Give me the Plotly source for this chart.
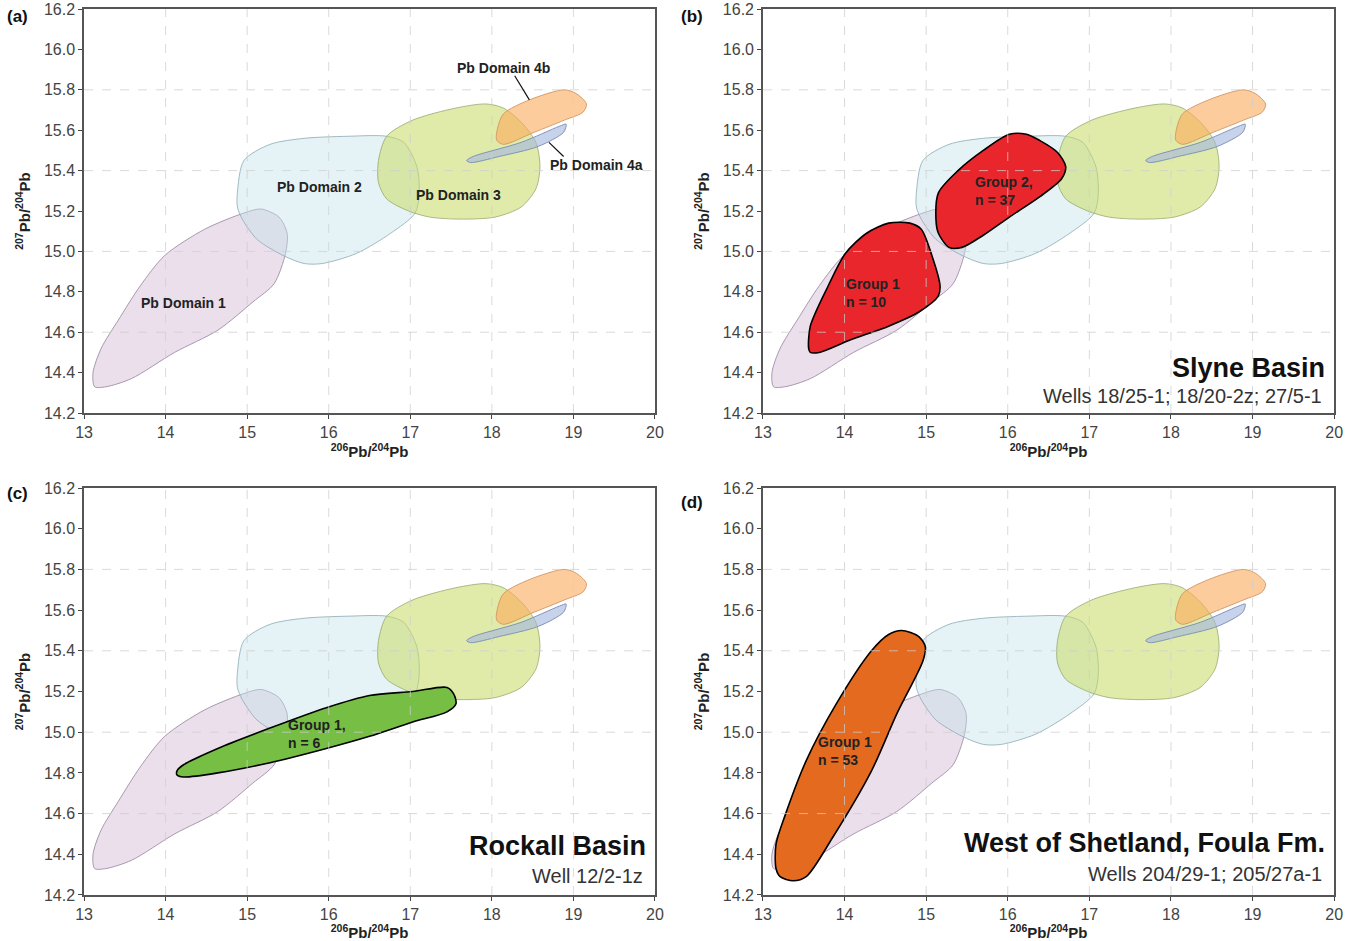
import plotly.graph_objects as go
from plotly.subplots import make_subplots

# ---------------- data ----------------
X_RANGE = [13, 20]
Y_RANGE = [14.2, 16.2]
X_TICKS = [13, 14, 15, 16, 17, 18, 19, 20]
Y_TICKS = [14.2, 14.4, 14.6, 14.8, 15.0, 15.2, 15.4, 15.6, 15.8, 16.0, 16.2]
GRID_X = [14, 15, 16, 17, 18, 19]
GRID_Y = [14.6, 15.0, 15.4, 15.8]

# Pb domain outlines (206Pb/204Pb, 207Pb/204Pb)
dom1_x = [13.13, 13.27, 13.58, 14.11, 14.64, 15.07, 15.33, 15.47, 15.49, 15.39, 15.17, 14.96, 14.48, 13.99, 13.69, 13.42, 13.21, 13.11, 13.13]
dom1_y = [14.33, 14.33, 14.37, 14.50, 14.61, 14.75, 14.84, 14.99, 15.09, 15.17, 15.21, 15.19, 15.11, 14.98, 14.83, 14.66, 14.52, 14.40, 14.33]

dom2_x = [14.88, 14.96, 15.28, 15.70, 16.23, 16.71, 16.92, 17.08, 17.11, 17.06, 16.76, 16.34, 15.92, 15.70, 15.44, 15.12, 14.94, 14.88, 14.88]
dom2_y = [15.29, 15.45, 15.53, 15.56, 15.57, 15.57, 15.54, 15.42, 15.29, 15.19, 15.09, 14.99, 14.94, 14.94, 14.98, 15.06, 15.16, 15.22, 15.29]

dom3_x = [16.61, 16.71, 17.03, 17.56, 17.93, 18.14, 18.36, 18.54, 18.59, 18.54, 18.36, 18.04, 17.61, 17.24, 16.98, 16.71, 16.61, 16.61]
dom3_y = [15.45, 15.57, 15.65, 15.71, 15.73, 15.71, 15.64, 15.54, 15.42, 15.31, 15.22, 15.17, 15.16, 15.17, 15.20, 15.26, 15.34, 15.45]

dom4b_x = [18.06, 18.14, 18.46, 18.89, 19.04, 19.16, 19.12, 18.89, 18.52, 18.14, 18.06, 18.06]
dom4b_y = [15.59, 15.68, 15.75, 15.80, 15.78, 15.73, 15.69, 15.65, 15.59, 15.53, 15.55, 15.59]

dom4a_x = [17.69, 17.77, 18.36, 18.83, 18.91, 18.88, 18.57, 18.09, 17.74, 17.69]
dom4a_y = [15.45, 15.47, 15.54, 15.62, 15.63, 15.59, 15.52, 15.47, 15.44, 15.45]

# Sample groups
slyne_g1_x = [13.56, 13.58, 13.80, 14.01, 14.27, 14.54, 14.80, 14.94, 15.07, 15.17, 15.15, 14.91, 14.54, 14.06, 13.69, 13.58, 13.56]
slyne_g1_y = [14.52, 14.63, 14.83, 14.99, 15.09, 15.14, 15.14, 15.11, 14.98, 14.83, 14.78, 14.70, 14.63, 14.56, 14.50, 14.50, 14.52]
slyne_g2_x = [15.12, 15.15, 15.39, 15.70, 16.02, 16.23, 16.39, 16.61, 16.71, 16.66, 16.39, 16.02, 15.70, 15.44, 15.28, 15.15, 15.12]
slyne_g2_y = [15.16, 15.29, 15.40, 15.50, 15.58, 15.58, 15.55, 15.49, 15.42, 15.36, 15.27, 15.17, 15.08, 15.02, 15.02, 15.09, 15.16]

rockall_g1_x = [14.14, 14.22, 14.64, 15.28, 15.97, 16.50, 17.03, 17.45, 17.53, 17.56, 17.45, 17.03, 16.50, 15.97, 15.28, 14.64, 14.22, 14.14, 14.14]
rockall_g1_y = [14.81, 14.84, 14.92, 15.02, 15.12, 15.18, 15.20, 15.22, 15.19, 15.14, 15.10, 15.05, 14.98, 14.92, 14.85, 14.80, 14.78, 14.79, 14.81]

shetland_g1_x = [13.16, 13.21, 13.37, 13.53, 13.85, 14.33, 14.64, 14.96, 14.99, 14.91, 14.70, 14.54, 14.33, 13.90, 13.53, 13.27, 13.16, 13.16]
shetland_g1_y = [14.33, 14.29, 14.27, 14.29, 14.48, 14.81, 15.09, 15.35, 15.42, 15.47, 15.50, 15.48, 15.40, 15.14, 14.86, 14.59, 14.45, 14.33]

DOMAIN_NAMES = ["Pb Domain 1", "Pb Domain 2", "Pb Domain 3", "Pb Domain 4b", "Pb Domain 4a"]
DOMAINS = [(dom1_x, dom1_y), (dom2_x, dom2_y), (dom3_x, dom3_y), (dom4b_x, dom4b_y), (dom4a_x, dom4a_y)]
DOMAIN_FILL = ["rgba(208,178,208,0.42)", "rgba(196,226,234,0.42)", "rgba(198,218,100,0.55)",
               "rgba(252,170,90,0.60)", "rgba(165,182,222,0.62)"]
DOMAIN_LINE = ["rgba(150,130,160,0.8)", "rgba(140,170,180,0.8)", "rgba(150,170,110,0.8)",
               "rgba(210,150,100,0.9)", "rgba(120,140,180,0.9)"]

PANEL_LETTERS = ["(a)", "(b)", "(c)", "(d)"]

# ---------------- figure ----------------
fig = make_subplots(rows=2, cols=2)

NARROW = "Liberation Sans Narrow, Arial Narrow, Liberation Sans, Arial"
SANS = "Liberation Sans, Arial"

panels = [(1, 1), (1, 2), (2, 1), (2, 2)]
for (r, c) in panels:
    for (dx, dy), nm, fc, lc in zip(DOMAINS, DOMAIN_NAMES, DOMAIN_FILL, DOMAIN_LINE):
        fig.add_trace(go.Scatter(x=dx, y=dy, mode="lines", fill="toself", fillcolor=fc,
                                 line=dict(color=lc, width=1, shape="spline", smoothing=0.8),
                                 name=nm, hoverinfo="name", showlegend=False), row=r, col=c)

def add_group(x, y, color, r, c, name):
    fig.add_trace(go.Scatter(x=x, y=y, mode="lines", fill="toself", fillcolor=color,
                             line=dict(color="black", width=1.6, shape="spline", smoothing=0.8),
                             name=name, hoverinfo="name", showlegend=False), row=r, col=c)

add_group(slyne_g1_x, slyne_g1_y, "#e8262b", 1, 2, "Group 1")
add_group(slyne_g2_x, slyne_g2_y, "#e8262b", 1, 2, "Group 2")
add_group(rockall_g1_x, rockall_g1_y, "#76bf44", 2, 1, "Group 1")
add_group(shetland_g1_x, shetland_g1_y, "#e36a1f", 2, 2, "Group 1")

# domains of each panel
X_DOM = {1: [0.0618, 0.4816], 2: [0.561, 0.981]}
Y_DOM = {1: [0.5611, 0.9904], 2: [0.0489, 0.4814]}

axis_title_font = dict(family=SANS, size=15, color="#222")
tick_font = dict(family=NARROW, size=16, color="#444")
for i, (r, c) in enumerate(panels):
    fig.update_xaxes(range=X_RANGE, tickvals=X_TICKS, ticks="outside", ticklen=4, tickcolor="#444",
                     showgrid=False, zeroline=False, showline=True, linecolor="#555", linewidth=1.5,
                     mirror=True, tickfont=tick_font, domain=X_DOM[c], automargin=False,
                     title=dict(text="<b><sup>206</sup>Pb/<sup>204</sup>Pb</b>", font=axis_title_font, standoff=7),
                     row=r, col=c)
    fig.update_yaxes(range=Y_RANGE, tickvals=Y_TICKS, tickformat=".1f", ticks="outside", ticklen=4,
                     tickcolor="#444", showgrid=False, zeroline=False, showline=True, linecolor="#555",
                     linewidth=1.5, mirror=True, tickfont=tick_font, domain=Y_DOM[r], automargin=False,
                     title=dict(text="<b><sup>207</sup>Pb/<sup>204</sup>Pb</b>", font=axis_title_font, standoff=10),
                     row=r, col=c)

# dashed grid drawn above the fills
axis_ids = ["", "2", "3", "4"]
grid_col = "rgba(205,205,205,0.75)"
for ax in axis_ids:
    for gx in GRID_X:
        fig.add_shape(type="line", xref="x" + ax, yref="y" + ax + " domain", x0=gx, x1=gx, y0=0, y1=1,
                      line=dict(color=grid_col, width=1, dash="dash"), layer="above")
    for gy in GRID_Y:
        fig.add_shape(type="line", xref="x" + ax + " domain", yref="y" + ax, x0=0, x1=1, y0=gy, y1=gy,
                      line=dict(color=grid_col, width=1, dash="dash"), layer="above")

# panel letters
letter_pos = [(0.0132, 0.982), (0.5088, 0.982), (0.0132, 0.476), (0.5088, 0.466)]
for txt, (px, py) in zip(PANEL_LETTERS, letter_pos):
    fig.add_annotation(text="<b>" + txt + "</b>", xref="paper", yref="paper", x=px, y=py, showarrow=False,
                       xanchor="center", yanchor="middle", font=dict(family=SANS, size=17, color="#111"))

# domain labels in panel (a)
lab_font = dict(family=NARROW, size=14, color="#222")
dom_labels = [("Pb Domain 1", 14.22, 14.745), ("Pb Domain 2", 15.89, 15.32), ("Pb Domain 3", 17.59, 15.28),
              ("Pb Domain 4b", 18.14, 15.91), ("Pb Domain 4a", 19.28, 15.43)]
for t, lx, ly in dom_labels:
    fig.add_annotation(text="<b>" + t + "</b>", x=lx, y=ly, xref="x", yref="y", showarrow=False, font=lab_font)
fig.add_shape(type="line", xref="x", yref="y", x0=18.28, y0=15.87, x1=18.46, y1=15.75,
              line=dict(color="#111", width=1.2), layer="above")
fig.add_shape(type="line", xref="x", yref="y", x0=18.88, y0=15.47, x1=18.70, y1=15.54,
              line=dict(color="#111", width=1.2), layer="above")

# group labels
grp_font = dict(family=NARROW, size=14, color="#222")
group_labels = [("x2", "y2", "Group 1<br>n = 10", 14.35, 14.795),
                ("x2", "y2", "Group 2,<br>n = 37", 15.95, 15.30),
                ("x3", "y3", "Group 1,<br>n = 6", 15.86, 14.99),
                ("x4", "y4", "Group 1<br>n = 53", 14.0, 14.91)]
for xr, yr, t, lx, ly in group_labels:
    fig.add_annotation(text="<b>" + t + "</b>", x=lx, y=ly, xref=xr, yref=yr, showarrow=False,
                       font=grp_font, align="left")

# basin titles
basins = [("x2", "y2", "Slyne Basin", "Wells 18/25-1; 18/20-2z; 27/5-1", 0.112, 0.042),
          ("x3", "y3", "Rockall Basin", "Well 12/2-1z", 0.12, 0.047),
          ("x4", "y4", "West of Shetland, Foula Fm.", "Wells 204/29-1; 205/27a-1", 0.127, 0.052)]
for xr, yr, big, small, yb, ys in basins:
    fig.add_annotation(text="<b>" + big + "</b>", xref=xr + " domain", yref=yr + " domain", x=0.988, y=yb,
                       xanchor="right", yanchor="middle", showarrow=False,
                       font=dict(family=SANS, size=27, color="#111"))
    fig.add_annotation(text=small, xref=xr + " domain", yref=yr + " domain", x=0.982, y=ys,
                       xanchor="right", yanchor="middle", showarrow=False,
                       font=dict(family=NARROW, size=20, color="#333"))

fig.update_layout(width=1360, height=941, margin=dict(l=0, r=0, t=0, b=0),
                  paper_bgcolor="white", plot_bgcolor="white", showlegend=False)

fig.write_html("out.html", config={"displayModeBar": False},
               post_script="document.body.style.margin='0';")
